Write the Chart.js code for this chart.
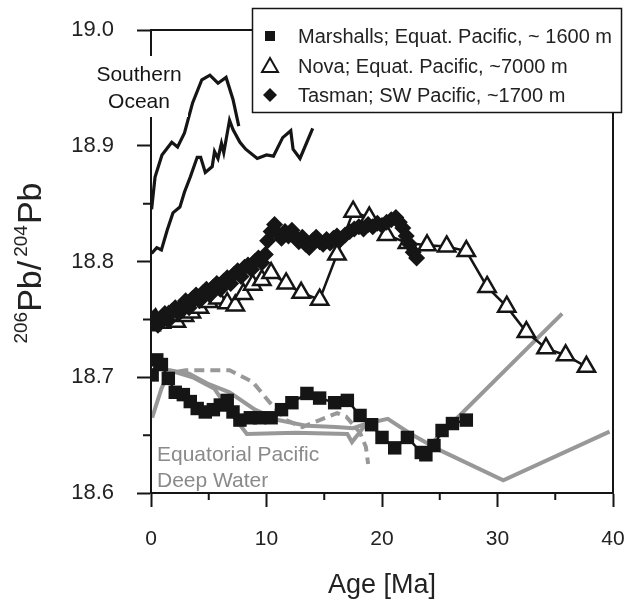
<!DOCTYPE html>
<html>
<head>
<meta charset="utf-8">
<script src="https://cdn.jsdelivr.net/npm/chart.js@4.4.1/dist/chart.umd.min.js"></script>
<style>
  html, body { margin: 0; padding: 0; background: #fff; }
</style>
</head>
<body>
<canvas id="chart" width="628" height="603"></canvas>
<script>
// Pb isotope records, age in Ma vs 206Pb/204Pb
const marshallsAge = [0.1, 0.5, 0.9, 1.5, 2.1, 2.8, 3.4, 4.0, 4.7, 5.4, 6.0, 6.6, 7.1, 7.7, 8.6, 9.4, 10.4, 11.3, 12.2, 13.5, 14.6, 15.9, 17.0, 18.1, 19.1, 20.0, 21.1, 22.2, 23.4, 23.8, 24.5, 25.2, 26.1, 27.3];
const marshallsPb  = [18.702, 18.715, 18.711, 18.699, 18.687, 18.685, 18.679, 18.673, 18.670, 18.672, 18.676, 18.680, 18.670, 18.663, 18.665, 18.665, 18.665, 18.672, 18.678, 18.686, 18.682, 18.678, 18.680, 18.667, 18.659, 18.648, 18.639, 18.648, 18.635, 18.633, 18.641, 18.654, 18.660, 18.663];

const novaAge = [0.0, 0.4, 0.9, 1.5, 2.2, 2.9, 3.5, 4.2, 5.0, 5.8, 6.6, 7.3, 8.0, 8.8, 9.6, 10.4, 11.7, 13.0, 14.6, 16.1, 17.5, 18.9, 20.4, 22.2, 23.9, 25.6, 27.3, 29.1, 30.8, 32.5, 34.2, 35.9, 37.7];
const novaPb  = [18.745, 18.750, 18.747, 18.752, 18.748, 18.753, 18.756, 18.760, 18.765, 18.768, 18.764, 18.762, 18.772, 18.780, 18.784, 18.790, 18.781, 18.773, 18.767, 18.806, 18.843, 18.838, 18.823, 18.816, 18.814, 18.813, 18.809, 18.778, 18.761, 18.739, 18.725, 18.719, 18.709];

const tasmanAge = [0.0, 0.3, 0.6, 0.9, 1.2, 1.5, 1.8, 2.1, 2.4, 2.7, 3.0, 3.3, 3.6, 3.9, 4.2, 4.5, 4.8, 5.1, 5.4, 5.7, 6.0, 6.3, 6.6, 6.9, 7.2, 7.5, 7.8, 8.1, 8.4, 8.7, 9.0, 9.3, 9.6, 9.9, 10.1, 10.4, 10.7, 11.0, 11.3, 11.6, 11.9, 12.2, 12.5, 12.8, 13.1, 13.4, 13.7, 14.0, 14.3, 14.6, 14.9, 15.2, 15.5, 15.8, 16.1, 16.4, 16.8, 17.2, 17.6, 18.0, 18.4, 18.8, 19.2, 19.6, 20.0, 20.4, 20.8, 21.2, 21.5, 21.8, 22.1, 22.4, 22.7, 23.0];
const tasmanPb  = [18.748, 18.752, 18.745, 18.750, 18.755, 18.749, 18.757, 18.760, 18.755, 18.762, 18.766, 18.760, 18.768, 18.771, 18.766, 18.773, 18.776, 18.771, 18.778, 18.781, 18.776, 18.783, 18.786, 18.781, 18.789, 18.792, 18.787, 18.795, 18.797, 18.793, 18.800, 18.803, 18.799, 18.806, 18.818, 18.826, 18.832, 18.824, 18.820, 18.826, 18.822, 18.827, 18.821, 18.817, 18.821, 18.815, 18.812, 18.818, 18.821, 18.817, 18.815, 18.819, 18.816, 18.820, 18.822, 18.819, 18.823, 18.826, 18.828, 18.830, 18.828, 18.832, 18.830, 18.833, 18.831, 18.834, 18.836, 18.838, 18.834, 18.829, 18.822, 18.815, 18.808, 18.803];

// Southern Ocean (two records, lines only)
const southUpperAge = [0.05, 0.35, 0.95, 1.8, 2.3, 2.9, 3.6, 4.4, 5.1, 5.8, 6.5, 7.1, 7.6];
const southUpperPb  = [18.845, 18.873, 18.892, 18.903, 18.899, 18.911, 18.937, 18.957, 18.961, 18.954, 18.959, 18.940, 18.917];
const southLowerAge = [0.05, 0.5, 0.9, 1.4, 1.9, 2.5, 2.9, 3.4, 4.0, 4.3, 4.7, 5.3, 5.5, 5.8, 6.1, 6.3, 6.8, 7.1, 7.7, 8.2, 9.2, 10.0, 10.6, 11.4, 12.1, 12.3, 12.9, 14.0];
const southLowerPb  = [18.807, 18.812, 18.810, 18.827, 18.842, 18.847, 18.860, 18.873, 18.890, 18.890, 18.877, 18.882, 18.895, 18.889, 18.902, 18.894, 18.922, 18.914, 18.903, 18.897, 18.889, 18.892, 18.891, 18.907, 18.913, 18.897, 18.889, 18.915];

// Equatorial Pacific deep water (grey)
const eqA_Age = [0.1, 0.9, 1.6, 3.3, 5.0, 6.8, 9.0, 11.0, 13.5, 16.0, 17.5, 18.7, 20.5, 22.5, 25.0, 30.5, 39.7];
const eqA_Pb  = [18.665, 18.690, 18.706, 18.703, 18.694, 18.687, 18.672, 18.663, 18.658, 18.657, 18.656, 18.660, 18.664, 18.651, 18.637, 18.611, 18.653];
const eqB_Age = [1.6, 3.6, 5.5, 7.0, 8.3, 12.5, 17.0, 17.4, 18.5];
const eqB_Pb  = [18.706, 18.700, 18.690, 18.668, 18.651, 18.652, 18.651, 18.644, 18.658];
const eqC_Age = [24.3, 35.6];
const eqC_Pb  = [18.643, 18.755];
const eqDashAge = [1.0, 3.0, 6.8, 8.8, 10.3, 11.7, 13.1, 14.6, 16.1, 16.9, 18.1, 18.6, 18.8];
const eqDashPb  = [18.703, 18.706, 18.706, 18.696, 18.678, 18.663, 18.657, 18.663, 18.669, 18.666, 18.652, 18.640, 18.625];

const legendLabels = ['Marshalls; Equat. Pacific, ~ 1600 m', 'Nova; Equat. Pacific, ~7000 m', 'Tasman; SW Pacific, ~1700 m'];

const FONT = 'Liberation Sans, Arial, sans-serif';
const INK = '#151515';
const GREY = '#989898';

const pts = (ages, vals) => ages.map((a, i) => ({ x: a, y: vals[i] }));

function lineSet(ages, vals, color, width, order, dash) {
  return {
    data: pts(ages, vals),
    showLine: true,
    borderColor: color,
    borderWidth: width,
    borderDash: dash || [],
    pointRadius: 0,
    fill: false,
    tension: 0,
    order: order
  };
}

const datasets = [
  {
    label: legendLabels[0],
    data: pts(marshallsAge, marshallsPb),
    showLine: true,
    borderColor: INK,
    borderWidth: 2.5,
    pointStyle: 'rect',
    pointRadius: 9.5,
    pointBackgroundColor: INK,
    pointBorderColor: INK,
    pointBorderWidth: 0,
    order: 2
  },
  {
    label: legendLabels[1],
    data: pts(novaAge, novaPb),
    showLine: true,
    borderColor: INK,
    borderWidth: 2.5,
    pointStyle: 'triangle',
    pointRadius: 10,
    pointBackgroundColor: '#fff',
    pointBorderColor: INK,
    pointBorderWidth: 2.5,
    order: 3
  },
  {
    label: legendLabels[2],
    data: pts(tasmanAge, tasmanPb),
    showLine: true,
    borderColor: INK,
    borderWidth: 2.5,
    pointStyle: 'rectRot',
    pointRadius: 8.5,
    pointBackgroundColor: INK,
    pointBorderColor: INK,
    pointBorderWidth: 0,
    order: 1
  },
  lineSet(southUpperAge, southUpperPb, INK, 3.2, 4),
  lineSet(southLowerAge, southLowerPb, INK, 3.2, 4),
  lineSet(eqA_Age, eqA_Pb, GREY, 4, 6),
  lineSet(eqB_Age, eqB_Pb, GREY, 4, 6),
  lineSet(eqC_Age, eqC_Pb, GREY, 4, 6),
  lineSet(eqDashAge, eqDashPb, GREY, 4, 6, [10, 6])
];

function legendMarker(ctx, style, x, y) {
  ctx.save();
  ctx.fillStyle = INK;
  ctx.strokeStyle = INK;
  ctx.lineWidth = 2;
  ctx.beginPath();
  if (style === 'rect') {
    ctx.rect(x - 5, y - 5, 10, 10);
    ctx.fill();
  } else if (style === 'triangle') {
    ctx.moveTo(x, y - 8);
    ctx.lineTo(x + 8, y + 6);
    ctx.lineTo(x - 8, y + 6);
    ctx.closePath();
    ctx.fillStyle = '#fff';
    ctx.fill();
    ctx.stroke();
  } else {
    ctx.moveTo(x, y - 7);
    ctx.lineTo(x + 7, y);
    ctx.lineTo(x, y + 7);
    ctx.lineTo(x - 7, y);
    ctx.closePath();
    ctx.fill();
  }
  ctx.restore();
}

const decorations = {
  id: 'decorations',
  afterDraw(chart) {
    const ctx = chart.ctx;
    const a = chart.chartArea;
    const xs = chart.scales.x, ys = chart.scales.y;
    ctx.save();

    // frame
    ctx.strokeStyle = INK;
    ctx.lineWidth = 2;
    ctx.strokeRect(a.left, a.top, a.right - a.left, a.bottom - a.top);

    // minor ticks
    ctx.beginPath();
    [5, 15, 25, 35].forEach(v => {
      const px = xs.getPixelForValue(v);
      ctx.moveTo(px, a.bottom);
      ctx.lineTo(px, a.bottom + 7);
    });
    [18.65, 18.75, 18.85, 18.95].forEach(v => {
      const py = ys.getPixelForValue(v);
      ctx.moveTo(a.left - 8, py);
      ctx.lineTo(a.left, py);
    });
    ctx.stroke();

    // Southern Ocean label (white box over axis)
    ctx.fillStyle = '#fff';
    ctx.fillRect(90, 56, 98, 61);
    ctx.fillStyle = INK;
    ctx.font = '21px ' + FONT;
    ctx.textAlign = 'center';
    ctx.textBaseline = 'middle';
    ctx.fillText('Southern', 139, 75);
    ctx.fillText('Ocean', 139, 102);

    // Equatorial Pacific label
    ctx.fillStyle = '#8a8a8a';
    ctx.textAlign = 'left';
    ctx.fillText('Equatorial Pacific', 157, 455);
    ctx.fillText('Deep Water', 157, 481);

    // x title
    ctx.fillStyle = '#222';
    ctx.font = '27px ' + FONT;
    ctx.textAlign = 'center';
    ctx.fillText('Age [Ma]', (a.left + a.right) / 2, 586);

    // y title with superscripts
    const parts = [
      { t: '206', f: 19, dy: -14, gap: 0 },
      { t: 'Pb/', f: 34, dy: 0, gap: 0 },
      { t: '204', f: 19, dy: -14, gap: 4 },
      { t: 'Pb', f: 34, dy: 0, gap: 1 }
    ];
    let total = 0;
    parts.forEach(p => { ctx.font = p.f + 'px ' + FONT; p.w = ctx.measureText(p.t).width; total += p.w + p.gap; });
    ctx.translate(41, 263);
    ctx.rotate(-Math.PI / 2);
    ctx.textAlign = 'left';
    ctx.textBaseline = 'alphabetic';
    let u = -total / 2;
    parts.forEach(p => {
      u += p.gap;
      ctx.font = p.f + 'px ' + FONT;
      ctx.fillText(p.t, u, p.dy);
      u += p.w;
    });
    ctx.setTransform(1, 0, 0, 1, 0, 0);

    // legend box
    ctx.fillStyle = '#fff';
    ctx.fillRect(252, 8, 370, 105);
    ctx.strokeStyle = INK;
    ctx.lineWidth = 1.5;
    ctx.strokeRect(252.5, 8.5, 369, 104);
    const styles = ['rect', 'triangle', 'rectRot'];
    const rows = [36, 66, 95];
    ctx.font = '20px ' + FONT;
    ctx.textAlign = 'left';
    ctx.textBaseline = 'middle';
    legendLabels.forEach((lab, i) => {
      legendMarker(ctx, styles[i], 270, rows[i]);
      ctx.fillStyle = '#222';
      ctx.fillText(lab, 298, rows[i] + 1);
    });
    ctx.restore();
  }
};

new Chart(document.getElementById('chart'), {
  type: 'scatter',
  data: { datasets: datasets },
  options: {
    responsive: false,
    animation: false,
    events: [],
    layout: { padding: { top: 30, right: 15, left: 0, bottom: 0 } },
    plugins: { legend: { display: false }, tooltip: { enabled: false } },
    scales: {
      x: {
        type: 'linear',
        min: 0,
        max: 40,
        afterFit: s => { s.height = 110; s.paddingLeft = 0; s.paddingRight = 0; },
        ticks: { stepSize: 10, color: '#222', padding: 20, maxRotation: 0, font: { size: 21, family: FONT } },
        grid: { drawOnChartArea: false, tickLength: 14, tickWidth: 2, tickColor: INK },
        border: { color: INK, width: 2 }
      },
      y: {
        min: 18.6,
        max: 19.0,
        afterFit: s => { s.width = 151; s.paddingTop = 0; s.paddingBottom = 0; },
        ticks: { stepSize: 0.1, color: '#222', padding: 23, font: { size: 22, family: FONT }, callback: v => v.toFixed(1) },
        grid: { drawOnChartArea: false, tickLength: 14, tickWidth: 2, tickColor: INK },
        border: { color: INK, width: 2 }
      }
    }
  },
  plugins: [decorations]
});
</script>
</body>
</html>
